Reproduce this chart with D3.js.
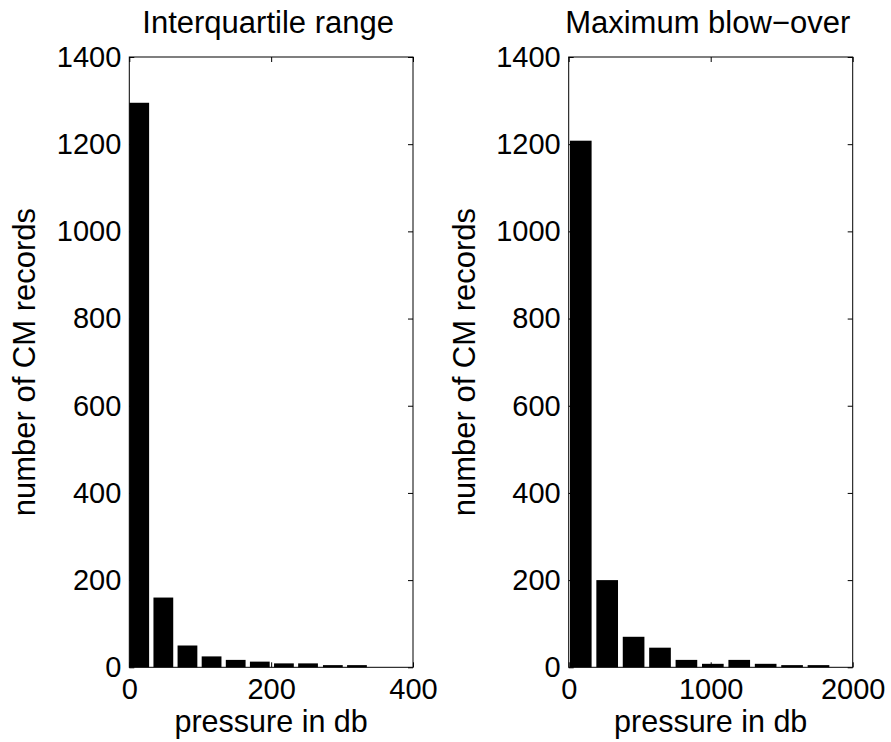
<!DOCTYPE html>
<html>
<head>
<meta charset="utf-8">
<script src="https://cdn.jsdelivr.net/npm/d3@7"></script>
<style>
  html, body { margin: 0; padding: 0; background: #fff; }
  svg { display: block; font-family: "Liberation Sans", Arial, Helvetica, sans-serif; }
  .tick line { stroke: #000; }
</style>
</head>
<body>
<svg id="chart" width="891" height="742"></svg>
<script>
// histogram 1: interquartile range
const iqrCenters = [14, 48, 82, 116, 150, 184, 218, 252, 287, 321];
const iqrCounts = [1295, 160, 50, 25, 17, 13, 9, 9, 5, 5];
const iqrTicks = [0, 200, 400];

// histogram 2: maximum blow-over
const mboCenters = [85, 271, 457, 643, 829, 1015, 1201, 1387, 1573, 1759];
const mboCounts = [1208, 200, 70, 45, 17, 8, 17, 8, 5, 5];
const mboTicks = [0, 1000, 2000];

const yTicks = [0, 200, 400, 600, 800, 1000, 1200, 1400];

const titles = ["Interquartile range", "Maximum blow\u2212over"];
const xLabel = "pressure in db";
const yLabel = "number of CM records";

const svg = d3.select("#chart");
const plotTop = 57, plotBottom = 667.3;
const tickLen = 5;
const fmt = d3.format("d");

const drawPanel = (opts) => {
  const { left, right, xMax, centers, counts, xTicks, title } = opts;

  const x = d3.scaleLinear().domain([0, xMax]).range([left, right]);
  const y = d3.scaleLinear().domain([0, 1400]).range([plotBottom, plotTop]);
  const g = svg.append("g");

  // bars (MATLAB hist style, bar width ~0.82 of bin)
  const bw = 0.82 * (centers[1] - centers[0]);
  const bins = centers.map((c, i) => ({ c, n: counts[i] }));
  g.selectAll(".bar")
    .data(bins)
    .enter()
    .append("rect")
    .attr("class", "bar")
    .attr("x", (d) => x(Math.max(0, d.c - bw / 2)))
    .attr("width", (d) => x(d.c + bw / 2) - x(Math.max(0, d.c - bw / 2)))
    .attr("y", (d) => y(d.n))
    .attr("height", (d) => y(0) - y(d.n))
    .attr("fill", "#000");

  // axes with inward ticks on all four sides
  const ax = (axis, tx, ty, labels) => {
    const a = g.append("g").attr("transform", `translate(${tx},${ty})`).call(axis);
    a.select(".domain").remove();
    a.selectAll("text").style("font-size", "29px").attr("fill", "#000");
    if (!labels) a.selectAll("text").remove();
    return a;
  };
  ax(d3.axisLeft(y).tickValues(yTicks).tickFormat(fmt).tickSizeInner(-tickLen).tickSizeOuter(0).tickPadding(8), left, 0, true);
  ax(d3.axisRight(y).tickValues(yTicks).tickSizeInner(-tickLen).tickSizeOuter(0), right, 0, false);
  ax(d3.axisBottom(x).tickValues(xTicks).tickFormat(fmt).tickSizeInner(-tickLen).tickSizeOuter(0).tickPadding(11), 0, plotBottom, true);
  ax(d3.axisTop(x).tickValues(xTicks).tickSizeInner(-tickLen).tickSizeOuter(0), 0, plotTop, false);

  // box
  g.append("rect")
    .attr("x", left)
    .attr("y", plotTop)
    .attr("width", right - left)
    .attr("height", plotBottom - plotTop)
    .attr("fill", "none")
    .attr("stroke", "#000")
    .attr("stroke-width", 1);

  const mid = (left + right) / 2;
  g.append("text")
    .attr("x", mid - 3)
    .attr("y", 33)
    .attr("text-anchor", "middle")
    .style("font-size", "31px")
    .text(title);

  g.append("text")
    .attr("x", mid)
    .attr("y", 732)
    .attr("text-anchor", "middle")
    .style("font-size", "30.5px")
    .text(xLabel);

  g.append("text")
    .attr("transform", `translate(${left - 94},${(plotTop + plotBottom) / 2}) rotate(-90)`)
    .attr("text-anchor", "middle")
    .style("font-size", "31px")
    .text(yLabel);
};

drawPanel({ left: 129.3, right: 413, xMax: 400, centers: iqrCenters, counts: iqrCounts, xTicks: iqrTicks, title: titles[0] });
drawPanel({ left: 568.7, right: 852.7, xMax: 2000, centers: mboCenters, counts: mboCounts, xTicks: mboTicks, title: titles[1] });
</script>
</body>
</html>
